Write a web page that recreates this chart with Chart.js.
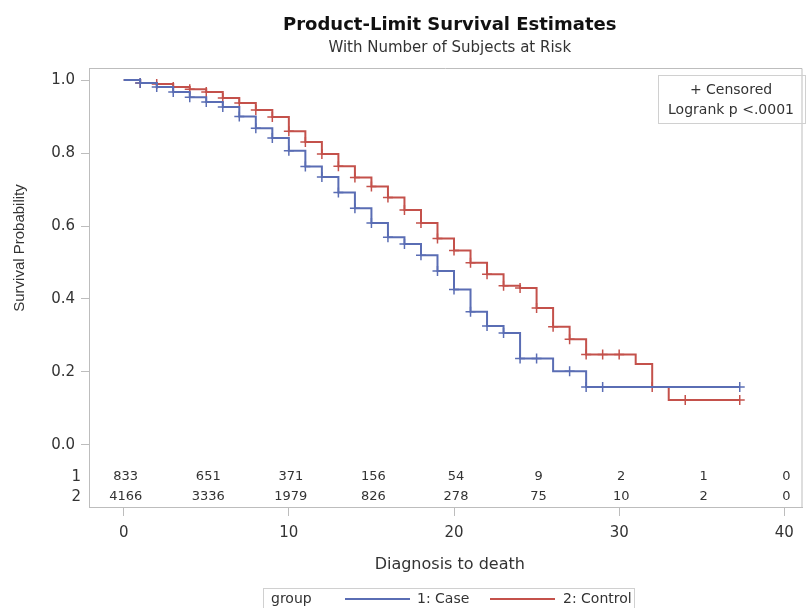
<!DOCTYPE html>
<html lang="en">
<head>
<meta charset="UTF-8" />
<title>Product-Limit Survival Estimates</title>
<script src="https://cdn.jsdelivr.net/npm/chart.js"></script>
<style>
  html, body { margin: 0; padding: 0; background: #fff; }
</style>
</head>
<body>
<canvas id="km" width="809" height="608"></canvas>
<script>
// survival steps (time, probability after the step)
const caseTimes = [0, 1, 2, 3, 4, 5, 6, 7, 8, 9, 10, 11, 12, 13, 14, 15, 16, 17, 18, 19, 20, 21, 22, 23, 24, 25, 26, 27, 28, 29, 37.3];
const caseSurv = [1.0, 0.992, 0.981, 0.967, 0.953, 0.94, 0.926, 0.90, 0.868, 0.841, 0.806, 0.763, 0.734, 0.692, 0.649, 0.608, 0.569, 0.551, 0.52, 0.477, 0.426, 0.365, 0.326, 0.307, 0.237, 0.237, 0.202, 0.202, 0.159, 0.159, 0.159];
const caseCensored = [1, 2, 3, 4, 5, 6, 7, 8, 9, 10, 11, 12, 13, 14, 15, 16, 17, 18, 19, 20, 21, 22, 23, 24, 25, 27, 28, 29, 37.3];

const controlTimes = [0, 1, 2, 3, 4, 5, 6, 7, 8, 9, 10, 11, 12, 13, 14, 15, 16, 17, 18, 19, 20, 21, 22, 23, 24, 25, 26, 27, 28, 29, 30, 31, 32, 33, 34, 37.3];
const controlSurv = [1.0, 0.992, 0.989, 0.981, 0.975, 0.967, 0.951, 0.937, 0.918, 0.899, 0.860, 0.830, 0.797, 0.764, 0.733, 0.708, 0.678, 0.644, 0.608, 0.566, 0.533, 0.499, 0.468, 0.436, 0.43, 0.375, 0.324, 0.29, 0.248, 0.248, 0.248, 0.222, 0.159, 0.123, 0.123, 0.123];
const controlCensored = [1, 2, 3, 4, 5, 6, 7, 8, 9, 10, 11, 12, 13, 14, 15, 16, 17, 18, 19, 20, 21, 22, 23, 24, 25, 26, 27, 28, 29, 30, 32, 34, 37.3];

const xTicks = [0, 10, 20, 30, 40];
const yTicks = [0, 0.2, 0.4, 0.6, 0.8, 1.0];

// number at risk
const riskTimes = [0, 5, 10, 15, 20, 25, 30, 35, 40];
const riskCase = [833, 651, 371, 156, 54, 9, 2, 1, 0];
const riskControl = [4166, 3336, 1979, 826, 278, 75, 10, 2, 0];

const groupLabels = ["1: Case", "2: Control"];

const BLUE = "#5a6db4";
const RED = "#c4514b";
const AXIS = "#bdbdbd";
const TEXT = "#333333";
const FONT = "'DejaVu Sans', sans-serif";

function series(times, surv, marks, label, color) {
    return {
        label: label,
        data: times.map((t, i) => ({ x: t, y: surv[i] })),
        borderColor: color,
        backgroundColor: color,
        borderWidth: 2,
        stepped: true,
        fill: false,
        pointStyle: "cross",
        pointRadius: (ctx) => (marks.includes(times[ctx.dataIndex]) ? 5 : 0),
        pointBorderWidth: 1.5,
        pointBorderColor: color,
    };
}

// titles, frame, at-risk table, inset and legend
const decor = {
    id: "decor",
    afterDraw(chart) {
        const ctx = chart.ctx;
        const a = chart.chartArea;
        const x = chart.scales.x;
        const y = chart.scales.y;
        const cx = (a.left + a.right) / 2;
        ctx.save();

        ctx.strokeStyle = AXIS;
        ctx.lineWidth = 1;
        ctx.beginPath();
        ctx.moveTo(a.left, a.top + 0.5);
        ctx.lineTo(a.right - 0.5, a.top + 0.5);
        ctx.lineTo(a.right - 0.5, a.bottom);
        ctx.stroke();

        ctx.fillStyle = "#111";
        ctx.textAlign = "center";
        ctx.textBaseline = "middle";
        ctx.font = "bold 18px " + FONT;
        ctx.fillText("Product-Limit Survival Estimates", cx + 4, 25);
        ctx.fillStyle = TEXT;
        ctx.font = "15px " + FONT;
        ctx.fillText("With Number of Subjects at Risk", cx + 4, 48);

        // at-risk rows
        ctx.font = "13px " + FONT;
        const row1 = y.getPixelForValue(-0.088);
        const row2 = y.getPixelForValue(-0.142);
        riskTimes.forEach((t, i) => {
            const px = x.getPixelForValue(t);
            ctx.fillText(String(riskCase[i]), px + 2, row1);
            ctx.fillText(String(riskControl[i]), px + 2, row2);
        });
        ctx.font = "15px " + FONT;
        ctx.textAlign = "right";
        ctx.fillText("1", a.left - 8, row1);
        ctx.fillText("2", a.left - 8, row2);

        // axis titles
        ctx.textAlign = "center";
        ctx.font = "16px " + FONT;
        ctx.fillText("Diagnosis to death", cx + 4, 565);
        ctx.save();
        ctx.translate(20, 248);
        ctx.rotate(-Math.PI / 2);
        ctx.font = "15px 'Liberation Sans', sans-serif";
        ctx.fillText("Survival Probability", 0, 0);
        ctx.restore();

        // inset box
        ctx.strokeStyle = "#d0d0d0";
        ctx.strokeRect(658.5, 75.5, 147, 48);
        ctx.font = "14px " + FONT;
        ctx.fillText("+ Censored", 731, 90);
        ctx.fillText("Logrank p <.0001", 731, 110);

        // legend
        ctx.strokeRect(263.5, 588.5, 371, 30);
        ctx.textAlign = "left";
        ctx.font = "14px " + FONT;
        ctx.fillText("group", 271, 599);
        ctx.lineWidth = 2;
        ctx.strokeStyle = BLUE;
        ctx.beginPath();
        ctx.moveTo(345, 599);
        ctx.lineTo(410, 599);
        ctx.stroke();
        ctx.fillText(groupLabels[0], 417, 599);
        ctx.strokeStyle = RED;
        ctx.beginPath();
        ctx.moveTo(490, 599);
        ctx.lineTo(555, 599);
        ctx.stroke();
        ctx.fillText(groupLabels[1], 563, 599);

        ctx.restore();
    },
};

new Chart(document.getElementById("km"), {
    type: "line",
    data: {
        datasets: [
            series(caseTimes, caseSurv, caseCensored, groupLabels[0], BLUE),
            series(controlTimes, controlSurv, controlCensored, groupLabels[1], RED),
        ],
    },
    options: {
        responsive: false,
        animation: false,
        devicePixelRatio: 1,
        layout: { padding: { top: 68, right: 3, left: 0, bottom: 0 } },
        scales: {
            x: {
                type: "linear",
                min: -2.1,
                max: 41.1,
                afterBuildTicks: (s) => { s.ticks = xTicks.map((v) => ({ value: v })); },
                afterFit: (s) => { s.height = 101; },
                ticks: {
                    autoSkip: false,
                    maxRotation: 0,
                    padding: 8,
                    color: TEXT,
                    font: { family: FONT, size: 15 },
                },
                grid: { display: true, drawOnChartArea: false, drawTicks: true, tickLength: 9, color: AXIS },
                border: { display: true, color: AXIS },
            },
            y: {
                min: -0.17,
                max: 1.033,
                afterBuildTicks: (s) => { s.ticks = yTicks.map((v) => ({ value: v })); },
                afterFit: (s) => { s.width = 89; },
                ticks: {
                    padding: 6,
                    color: TEXT,
                    font: { family: FONT, size: 15 },
                    callback: (v) => Number(v).toFixed(1),
                },
                grid: { display: true, drawOnChartArea: false, drawTicks: true, tickLength: 8, color: AXIS },
                border: { display: true, color: AXIS },
            },
        },
        plugins: {
            legend: { display: false },
            title: { display: false },
            tooltip: { enabled: false },
        },
    },
    plugins: [decor],
});
</script>
</body>
</html>
